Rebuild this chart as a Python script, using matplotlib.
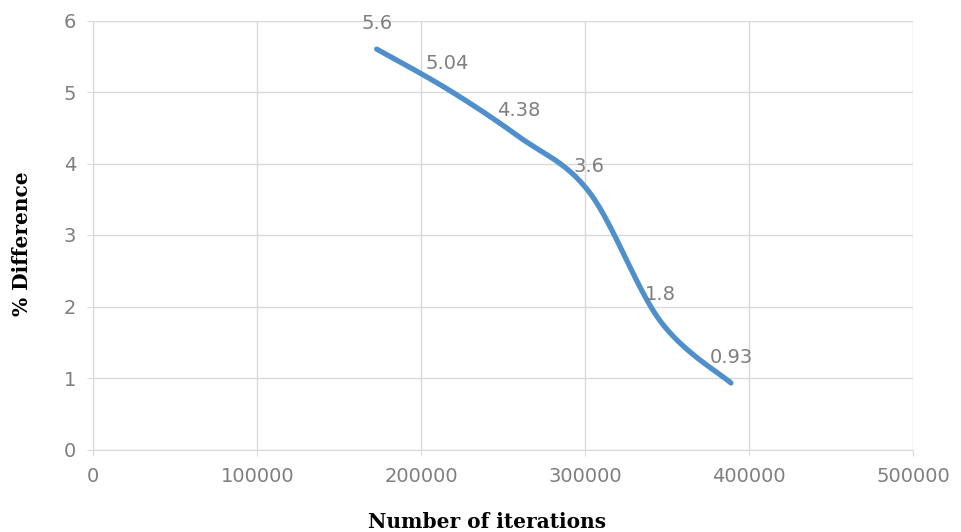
import numpy as np
import matplotlib.pyplot as plt

# Datos
iterations = [172800, 216000, 259200, 302400, 345600, 388800]
pct_diff = [5.6, 5.04, 4.38, 3.6, 1.8, 0.93]
x_ticks = [0, 100000, 200000, 300000, 400000, 500000]
y_ticks = [0, 1, 2, 3, 4, 5, 6]


def smooth_line(xs, ys, n=40):
    # curva suavizada tipo Excel (Bezier con tangentes Catmull-Rom)
    p = np.column_stack([xs, ys]).astype(float)
    p = np.vstack([p[0], p, p[-1]])
    out = []
    for i in range(1, len(p) - 2):
        p0, p1, p2, p3 = p[i - 1], p[i], p[i + 1], p[i + 2]
        c1 = p1 + (p2 - p0) / 6
        c2 = p2 - (p3 - p1) / 6
        t = np.linspace(0, 1, n)[:, None]
        seg = ((1 - t) ** 3) * p1 + 3 * ((1 - t) ** 2) * t * c1 + 3 * (1 - t) * t ** 2 * c2 + t ** 3 * p2
        out.append(seg if i == 1 else seg[1:])
    return np.vstack(out)


fig = plt.figure(figsize=(9.61, 5.32), dpi=100)
ax = fig.add_axes([93.3 / 961, 1 - 449.5 / 532, 820 / 961, 429 / 532])

# escalar al espacio de píxeles para que el suavizado sea como en Excel
sx = 820 / 500000
sy = 429 / 6
curve = smooth_line(np.array(iterations) * sx, np.array(pct_diff) * sy)
ax.plot(curve[:, 0] / sx, curve[:, 1] / sy, color='#4f8fcc', lw=3.8,
        solid_capstyle='round', zorder=3)

for xv, yv in zip(iterations, pct_diff):
    ax.annotate(f"{yv:g}", (xv, yv), xytext=(0, 26), textcoords='offset pixels',
                ha='center', va='center', fontsize=14, color='#7f7f7f', zorder=4)

ax.set_xlim(0, 500000)
ax.set_ylim(0, 6)
ax.set_xticks(x_ticks)
ax.set_yticks(y_ticks)
ax.set_xticklabels([str(v) for v in x_ticks])
ax.grid(True, color='#d9d9d9', lw=1)
ax.set_axisbelow(True)
for s in ['top', 'right']:
    ax.spines[s].set_visible(False)
for s in ['left', 'bottom']:
    ax.spines[s].set_color('#d9d9d9')
ax.tick_params(colors='#d9d9d9', labelcolor='#7f7f7f', labelsize=14, length=4.5, pad=8)

fig.text(487 / 961, 1 - 521.7 / 532, "Number of iterations", family='DejaVu Serif',
         fontweight='bold', fontsize=14.5, ha='center', va='center')
fig.text(22 / 961, 1 - 244 / 532, "% Difference", family='DejaVu Serif',
         fontweight='bold', fontsize=14.5, ha='center', va='center', rotation=90)

plt.savefig("out.png", dpi=100)
